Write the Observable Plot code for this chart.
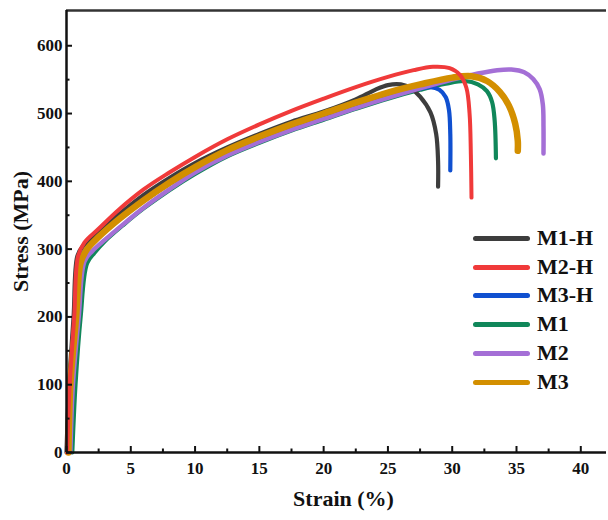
<!DOCTYPE html>
<html>
<head>
<meta charset="utf-8">
<script src="https://cdn.jsdelivr.net/npm/d3@7"></script>
<script src="https://cdn.jsdelivr.net/npm/@observablehq/plot@0.6"></script>
<style>
  body { margin: 0; background: #fff; }
  #wrap { position: relative; width: 608px; height: 520px; }
  .leg { position: absolute; left: 473px; font-family: "Liberation Serif", serif; font-weight: bold; font-size: 22px; color: #111; display: flex; align-items: center; height: 28px; }
  .leg span.sw { display: inline-block; width: 57px; height: 5px; border-radius: 3px; margin-right: 7px; }
</style>
</head>
<body>
<div id="wrap"></div>
<script>
// ---- data ----
const seriesNames = ["M1-H", "M2-H", "M3-H", "M1", "M2", "M3"];
const seriesColors = ["#3d3d3d", "#f03a3a", "#1050d0", "#10875a", "#a46fd6", "#d38f00"];

const m1hStrain = [0, 0.2, 0.55, 0.85, 1.3, 2.5, 4, 6, 8, 10, 12.5, 15, 17.5, 20, 22.5, 24, 25, 26, 26.8, 27.5, 28.3, 28.75, 28.9, 28.9];
const m1hStress = [0, 100, 200, 290, 305, 325, 350, 380, 405, 427, 450, 470, 488, 503, 521, 535, 542, 543, 537, 525, 502, 470, 430, 392];

const m2hStrain = [0.05, 0.25, 0.6, 0.9, 1.4, 2.5, 4, 6, 8, 10, 12.5, 15, 17.5, 20, 22.5, 25, 27, 28.5, 29.8, 30.6, 31.1, 31.35, 31.45, 31.5];
const m2hStress = [0, 100, 200, 290, 310, 330, 357, 388, 413, 436, 462, 484, 504, 522, 539, 554, 564, 569, 567, 557, 538, 500, 440, 376];

const m3hStrain = [0.1, 0.3, 0.7, 1.05, 1.5, 2.5, 4, 6, 8, 10, 12.5, 15, 17.5, 20, 22.5, 25, 27, 28.3, 29, 29.5, 29.75, 29.85, 29.85];
const m3hStress = [0, 100, 200, 283, 300, 318, 342, 371, 396, 419, 443, 463, 481, 497, 513, 527, 535, 539, 535, 524, 505, 470, 416];

const m1Strain = [0.45, 0.7, 1.1, 1.6, 2.2, 3, 4.5, 6, 8, 10, 12.5, 15, 17.5, 20, 22.5, 25, 27.5, 29.5, 31, 32, 32.7, 33.1, 33.3, 33.4];
const m1Stress = [0, 100, 200, 279, 295, 312, 337, 360, 387, 411, 437, 457, 475, 491, 507, 522, 535, 544, 548, 543, 533, 517, 490, 434];

const m2Strain = [0.3, 0.5, 0.95, 1.4, 2, 3, 4.5, 6, 8, 10, 12.5, 15, 17.5, 20, 22.5, 25, 27.5, 30, 32, 33.5, 34.6, 35.6, 36.3, 36.8, 37.05, 37.1, 37.1];
const m2Stress = [0, 100, 200, 282, 297, 314, 338, 361, 388, 413, 438, 458, 476, 492, 508, 523, 537, 550, 559, 564, 565, 561, 551, 536, 513, 480, 441];

const m3Strain = [0.15, 0.3, 0.75, 1.1, 1.6, 2.5, 4, 6, 8, 10, 12.5, 15, 17.5, 20, 22.5, 25, 27.5, 30, 31.5, 32.7, 33.7, 34.4, 34.9, 35.1, 35.1];
const m3Stress = [0, 100, 200, 280, 300, 318, 343, 372, 398, 421, 446, 466, 484, 500, 516, 531, 543, 553, 555, 548, 532, 512, 485, 460, 445];

const xDomain = [0, 42];
const yDomain = [0, 652];
const xMajor = [0, 5, 10, 15, 20, 25, 30, 35, 40];
const xMinor = [2.5, 7.5, 12.5, 17.5, 22.5, 27.5, 32.5, 37.5];
const yMajor = [0, 100, 200, 300, 400, 500, 600];
const yMinor = [50, 150, 250, 350, 450, 550];
const xTitle = "Strain (%)";
const yTitle = "Stress (MPa)";

// ---- build tables ----
const strains = [m1hStrain, m2hStrain, m3hStrain, m1Strain, m2Strain, m3Strain];
const stresses = [m1hStress, m2hStress, m3hStress, m1Stress, m2Stress, m3Stress];
const tables = seriesNames.map((name, i) => strains[i].map((s, j) => ({name, strain: s, stress: stresses[i][j]})));

// drawing order (bottom to top): M1, M3-H, M1-H, M2, M3, M2-H
const order = [3, 2, 0, 4, 5, 1];
const widths = {0: 4.2, 1: 4, 2: 4.2, 3: 4.2, 4: 4.5, 5: 6.5};

const lineMarks = order.map(i => Plot.line(tables[i], {
  x: "strain", y: "stress", stroke: seriesColors[i], strokeWidth: widths[i],
  curve: "catmull-rom", strokeLinecap: "round", strokeLinejoin: "round"
}));

const chart = Plot.plot({
  width: 608,
  height: 520,
  marginLeft: 66,
  marginRight: 2,
  marginTop: 10,
  marginBottom: 68,
  style: {fontFamily: "'Liberation Serif', serif", fontSize: "17px", fontWeight: "bold", color: "#111", background: "#fff"},
  x: {domain: xDomain},
  y: {domain: yDomain},
  marks: [
    ...lineMarks,
    Plot.ruleY([yDomain[1]], {stroke: "#333", strokeWidth: 2.5}),
    Plot.ruleX([xDomain[0]], {stroke: "#111", strokeWidth: 2.5}),
    Plot.ruleY([yDomain[0]], {stroke: "#111", strokeWidth: 2.5}),
    Plot.axisX({ticks: xMajor, tickSize: -6, tickPadding: 15, strokeWidth: 2, label: null, tickFormat: d => String(d)}),
    Plot.axisX({ticks: xMinor, tickSize: -3.5, strokeWidth: 2, label: null, tickFormat: () => ""}),
    Plot.axisY({ticks: yMajor, tickSize: -6, tickPadding: 10, strokeWidth: 2, label: null, tickFormat: d => String(d)}),
    Plot.axisY({ticks: yMinor, tickSize: -3.5, strokeWidth: 2, label: null, tickFormat: () => ""}),
    Plot.text([xTitle], {frameAnchor: "bottom", dy: 38, dx: 7, fontSize: 22, lineAnchor: "top", textAnchor: "middle", text: d => d}),
    Plot.text([yTitle], {frameAnchor: "left", rotate: -90, dx: -46, fontSize: 22, textAnchor: "middle", text: d => d})
  ]
});

const wrap = document.getElementById("wrap");
wrap.appendChild(chart);

// legend
const legendTops = [224, 253, 281, 310, 339, 368];
seriesNames.forEach((name, i) => {
  const row = document.createElement("div");
  row.className = "leg";
  row.style.top = legendTops[i] + "px";
  const sw = document.createElement("span");
  sw.className = "sw";
  sw.style.background = seriesColors[i];
  row.appendChild(sw);
  row.appendChild(document.createTextNode(name));
  wrap.appendChild(row);
});
</script>
</body>
</html>
